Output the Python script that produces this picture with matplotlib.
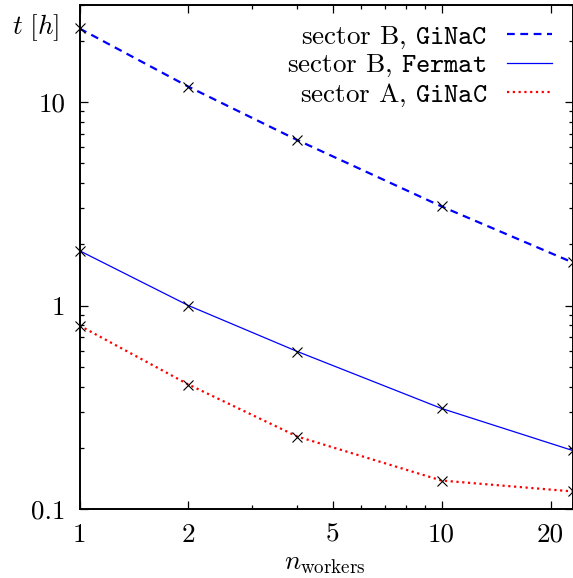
import matplotlib
matplotlib.use("Agg")
import matplotlib.pyplot as plt
from matplotlib.ticker import FixedLocator, FixedFormatter, LogLocator, NullFormatter

# workers vs. run time [h]
workers = [1, 2, 4, 10, 23]
b_ginac = [23.0, 11.9, 6.5, 3.07, 1.63]
b_fermat = [1.86, 1.0, 0.594, 0.312, 0.194]
a_ginac = [0.797, 0.409, 0.227, 0.138, 0.122]

x_ticks = [1, 2, 5, 10, 20]
y_ticks = [0.1, 1, 10]
y_ticklabels = ["0.1", "1", "10"]

plt.rcParams['font.family'] = 'serif'
plt.rcParams['font.serif'] = ['cmr10', 'DejaVu Serif']
plt.rcParams['mathtext.fontset'] = 'cm'
plt.rcParams['axes.formatter.use_mathtext'] = True

fs = 19.5

fig = plt.figure(figsize=(5.73, 5.78), dpi=100)
ax = fig.add_axes([79.5 / 573, 69 / 578, 493 / 573, 504 / 578])

ax.plot(workers, b_ginac, color='#0000ff', linestyle=(0, (3.5, 2.5)), linewidth=1.6,
        label=r"sector B, $\mathtt{GiNaC}$", clip_on=False)
ax.plot(workers, b_fermat, color='#0000ff', linestyle='-', linewidth=0.9,
        label=r"sector B, $\mathtt{Fermat}$", clip_on=False)
ax.plot(workers, a_ginac, color='#ff0000', linestyle=(0, (1, 1.6)), linewidth=1.6,
        label=r"sector A, $\mathtt{GiNaC}$", clip_on=False)
for ys in (b_ginac, b_fermat, a_ginac):
    ax.plot(workers, ys, linestyle='none', marker='x', color='black',
            markersize=7, markeredgewidth=0.8, clip_on=False, zorder=5)

ax.set_xscale('log')
ax.set_yscale('log')
ax.set_xlim(1, 23)
ax.set_ylim(0.1, 30)

ax.xaxis.set_major_locator(FixedLocator(x_ticks))
ax.xaxis.set_major_formatter(FixedFormatter([str(v) for v in x_ticks]))
ax.xaxis.set_minor_locator(LogLocator(base=10, subs=range(2, 10)))
ax.xaxis.set_minor_formatter(NullFormatter())
ax.yaxis.set_major_locator(FixedLocator(y_ticks))
ax.yaxis.set_major_formatter(FixedFormatter(y_ticklabels))
ax.yaxis.set_minor_locator(LogLocator(base=10, subs=range(2, 10)))
ax.yaxis.set_minor_formatter(NullFormatter())

ax.tick_params(which='both', direction='in', top=True, right=True, labelsize=fs, width=0.9)
ax.tick_params(which='major', length=6, pad=10)
ax.tick_params(which='minor', length=3)
for s in ax.spines.values():
    s.set_linewidth(1.4)

fig.text(36 / 573, 1 - 28 / 578, r"$t\ [h]$", fontsize=fs, ha='center', va='center')
fig.text(325 / 573, 1 - 564 / 578, r"$n_{\mathrm{workers}}$", fontsize=fs, ha='center', va='center')

ax.legend(loc='upper right', bbox_to_anchor=(0.991, 0.994), frameon=False, markerfirst=False,
          fontsize=fs, handlelength=1.66, handletextpad=0.74, labelspacing=0.08,
          borderaxespad=0.2)

fig.savefig("out.png", dpi=100)
